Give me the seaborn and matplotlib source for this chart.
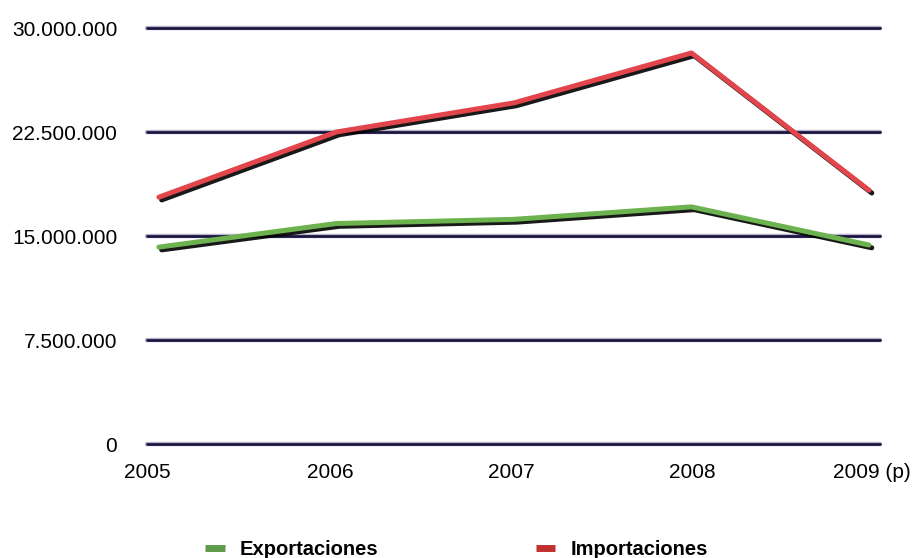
import seaborn as sns
import matplotlib.pyplot as plt
import matplotlib.patheffects as pe
from matplotlib.lines import Line2D
import pandas as pd

# Valores
years = ['2005', '2006', '2007', '2008', '2009 (p)']
exportaciones = [14200000, 15900000, 16200000, 17100000, 14350000]
importaciones = [17800000, 22500000, 24600000, 28200000, 18300000]
y_ticks = [0, 7500000, 15000000, 22500000, 30000000]
y_labels = ['0', '7.500.000', '15.000.000', '22.500.000', '30.000.000']
# posiciones de las etiquetas del eje x (algo desplazadas como en el original)
x_label_pos = [-0.067, 0.966, 1.983, 3.006, 4.017]

df = pd.DataFrame({
    'idx': list(range(len(years))) * 2,
    'valor': exportaciones + importaciones,
    'serie': ['Exportaciones'] * len(years) + ['Importaciones'] * len(years),
})

sns.set_style('white')
plt.rcParams['font.family'] = ['Liberation Sans', 'DejaVu Sans']

fig = plt.figure(figsize=(9.13, 5.58), dpi=100)
ax = fig.add_axes([147 / 913, 1 - 444 / 558, (880 - 147) / 913, (444 - 28) / 558])

# lineas de la cuadricula
for v in y_ticks:
    ax.axhline(v, color='#1a1642', lw=2.0, zorder=1, clip_on=False,
               path_effects=[pe.Stroke(linewidth=3.2, foreground='#b8b6c8'), pe.Normal()])

sns.lineplot(data=df, x='idx', y='valor', hue='serie',
             palette={'Exportaciones': '#6cb24f', 'Importaciones': '#e2454b'},
             lw=3.6, legend=False, ax=ax, zorder=3)
for line in ax.get_lines()[len(y_ticks):]:
    line.set_solid_capstyle('round')
    line.set_clip_on(False)
    line.set_path_effects([pe.SimpleLineShadow(offset=(2.0, -2.0), shadow_color='black', alpha=0.9),
                           pe.Normal()])

ax.set_xlim(-0.056, 4.062)
ax.set_ylim(0, 30000000)
ax.set_yticks(y_ticks)
ax.set_yticklabels(y_labels, fontsize=15)
ax.set_xticks(x_label_pos)
ax.set_xticklabels(years, fontsize=15)
ax.tick_params(axis='y', length=0, pad=21.5, labelcolor='black')
ax.tick_params(axis='x', length=0, pad=14, labelcolor='black')
ax.set_xlabel('')
ax.set_ylabel('')
sns.despine(ax=ax, left=True, bottom=True)

handles = [Line2D([], [], color='#5e9b4b', lw=5, solid_capstyle='butt'),
           Line2D([], [], color='#c0302f', lw=5, solid_capstyle='butt')]
fig.legend(handles, ['Exportaciones', 'Importaciones'], loc='lower center',
           bbox_to_anchor=(0.5, -0.034), ncol=2, frameon=False, handlelength=0.95,
           columnspacing=7.85, handletextpad=0.74, labelcolor='black',
           prop={'family': 'Liberation Sans', 'weight': 'bold', 'size': 14.5})

plt.savefig('out.png', dpi=100)
plt.close()
